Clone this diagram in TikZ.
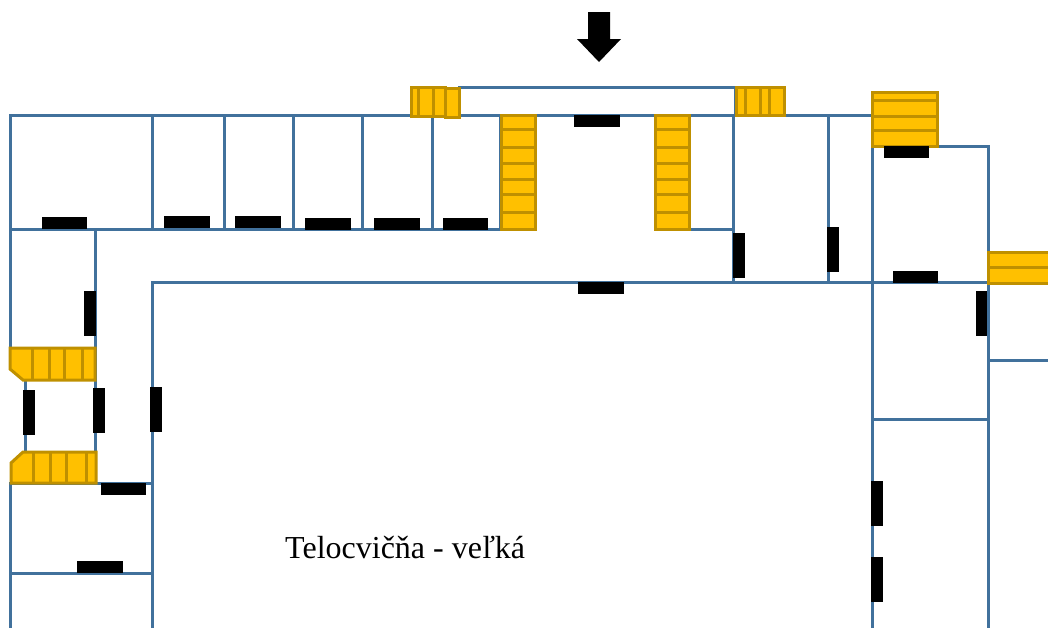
\documentclass[tikz,border=0pt]{standalone}
\usepackage{fontspec}
\setmainfont{Liberation Serif}
\tikzset{
  wall/.style={draw=wallblue,line width=3pt,line cap=rect},
  stair/.style={draw=stairedge,fill=stairfill,line width=3pt,line join=miter},
  door/.style={fill=black,draw=none},
}
\definecolor{wallblue}{HTML}{41719C}
\definecolor{stairfill}{HTML}{FFC000}
\definecolor{stairedge}{HTML}{BF9000}
\begin{document}
\begin{tikzpicture}[x=1pt,y=-1pt]
\useasboundingbox (0,0) rectangle (1048,627);
% walls
\draw[wall] (10,115) -- (872,115);
\draw[wall] (459,87) -- (735,87) -- (735,115);
\draw[wall] (10,115) -- (10,348);
\draw[wall] (10,229) -- (500,229);
\foreach \x in {152,224,293,362,432,500}{\draw[wall] (\x,115) -- (\x,229);}
\draw[wall] (689,115) -- (689,229) -- (733,229);
\draw[wall] (733,115) -- (733,282.5);
\draw[wall] (828,115) -- (828,282.5);
\draw[wall] (872,115) -- (872,627);
\draw[wall] (872,146) -- (988,146) -- (988,627);
\draw[wall] (152,627) -- (152,282.5) -- (1048,282.5);
\draw[wall] (95,229) -- (95,483);
\draw[wall] (25,380) -- (25,452);
\draw[wall] (10,348) -- (95,348);
\draw[wall] (10,627) -- (10,483) -- (152,483);
\draw[wall] (10,573) -- (152,573);
\draw[wall] (988,360) -- (1048,360);
\draw[wall] (872,419) -- (988,419);
% stairs: top left
\draw[stair] (411,87) rectangle (433,116);
\draw[stair] (418,87) rectangle (433,116);
\draw[stair] (433,87) rectangle (445,116);
\draw[stair] (445,88) rectangle (459,117);
% stairs: top right
\draw[stair] (736,87) rectangle (784,115);
\draw[stair] (745,87) rectangle (760,115);
\draw[stair] (769,87) rectangle (784,115);
% stairs: two columns
\foreach \x in {501,655}{
  \draw[stair] (\x,115) rectangle ++(34,114);
  \foreach \a/\b in {129/147,163/179,194/212}{
    \draw[stair] (\x,\a) rectangle (\x+34,\b);
  }
}
% stairs: upper right
\draw[stair] (872,92) rectangle (937,146);
\draw[stair] (872,100) rectangle (937,116);
\draw[stair] (872,130) -- (937,130);
% stairs: right edge
\draw[stair] (988,252) rectangle (1051,283);
\draw[stair] (988,267) -- (1051,267);
% stairs: left
\draw[stair] (10,348) -- (95,348) -- (95,380) -- (23,380) -- (10,369) -- cycle;
\foreach \x in {32,49,64,82}{\draw[stair] (\x,349) -- (\x,380);}
\draw[stair] (11,483) -- (96,483) -- (96,452) -- (23,452) -- (11,463) -- cycle;
\foreach \x in {33,50,66,86}{\draw[stair] (\x,452) -- (\x,483);}
% doors, horizontal
\foreach \x/\y/\w in {42/217/45,164/216/46,235/216/46,305/218/46,374/218/46,443/218/45,574/115/46,578/282/46,884/146/45,893/271/45,101/483/45,77/561/46}{
  \fill[door] (\x,\y) rectangle ++(\w,12);
}
% doors, vertical
\foreach \x/\y/\w in {733/233/12,827/227/12,976/291/11,84/291/12,23/390/12,93/388/12,150/387/12,871/481/12,871/557/12}{
  \fill[door] (\x,\y) rectangle ++(\w,45);
}
% entrance arrow
\fill[door] (588,12) -- (610,12) -- (610,39) -- (621,39) -- (599,62) -- (577,39) -- (588,39) -- cycle;
\node[anchor=base west,inner sep=0pt,font=\fontsize{32}{32}\selectfont] (hall) at (285,558) {Telocvičňa - veľká};
\end{tikzpicture}
\end{document}
